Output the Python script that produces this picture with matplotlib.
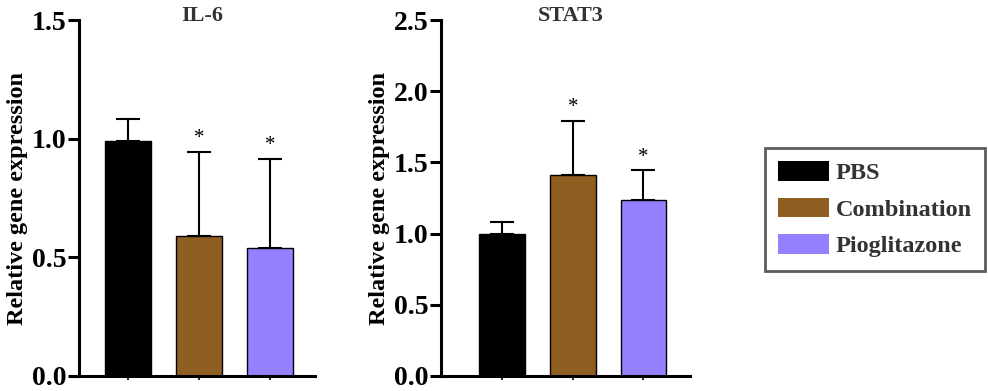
import matplotlib.pyplot as plt
from matplotlib.patches import Patch

# Datos
grupos = ["PBS", "Combination", "Pioglitazone"]
colores = ["#000000", "#8f5f22", "#9580ff"]

il6_media = [0.99, 0.59, 0.54]
il6_error = [0.095, 0.355, 0.375]

stat3_media = [1.0, 1.41, 1.24]
stat3_error = [0.08, 0.385, 0.205]

plt.rcParams['font.family'] = ['Liberation Serif', 'DejaVu Serif']
plt.rcParams['font.weight'] = 'bold'

fig = plt.figure(figsize=(9.88, 3.91), dpi=100)
ax1 = fig.add_axes([0.080, 0.0384, 0.239, 0.910])
ax2 = fig.add_axes([0.4464, 0.0384, 0.252, 0.910])


def graficar(ax, medias, errores, titulo, ymax, paso, xlim):
    x = list(range(len(medias)))
    ax.bar(x, medias, width=0.65, color=colores, edgecolor="black",
           linewidth=1.0, zorder=2)
    ax.errorbar(x, medias, yerr=[[0] * len(medias), errores], fmt="none",
                ecolor="black", elinewidth=1.5, capsize=8.6, capthick=1.5,
                zorder=1)
    for i in range(1, len(medias)):
        ax.text(x[i], medias[i] + errores[i] + ymax * 0.037, "*",
                ha="center", va="center", fontsize=15, fontweight="normal")
    ax.set_xlim(xlim)
    ax.set_ylim(0, ymax)
    ticks = [round(i * paso, 1) for i in range(int(round(ymax / paso)) + 1)]
    ax.set_yticks(ticks)
    ax.set_yticklabels([f"{t:.1f}" for t in ticks], fontsize=20,
                       fontweight="bold")
    ax.set_xticks(x)
    ax.set_xticklabels([])
    ax.tick_params(axis="x", length=3, width=1.2)
    ax.tick_params(axis="y", length=8, width=2.2, pad=1)
    for lado in ["top", "right"]:
        ax.spines[lado].set_visible(False)
    for lado in ["left", "bottom"]:
        ax.spines[lado].set_linewidth(2.2)
    ax.set_ylabel("Relative gene expression", fontsize=17.5,
                  fontweight="bold", labelpad=3)
    ax.text(0.52, 1.012, titulo, transform=ax.transAxes, ha="center",
            va="center", fontsize=16, fontweight="bold", color="#333333")


graficar(ax1, il6_media, il6_error, "IL-6", 1.5, 0.5, (-0.69, 2.64))
graficar(ax2, stat3_media, stat3_error, "STAT3", 2.5, 0.5, (-0.87, 2.66))

manijas = [Patch(facecolor=c, edgecolor="none") for c in colores]
leg = fig.legend(manijas, grupos, loc="upper left",
                 bbox_to_anchor=(765 / 988, 1 - 148 / 391),
                 frameon=True, fancybox=False,
                 prop={"weight": "bold", "size": 17.5},
                 handlelength=2.1, handleheight=0.85, handletextpad=0.25,
                 labelspacing=0.55, borderpad=0.55, borderaxespad=0)
leg.get_frame().set_edgecolor("#333333")
leg.get_frame().set_linewidth(2.0)
for t in leg.get_texts():
    t.set_color("#333333")

plt.savefig("out.png", dpi=100)
